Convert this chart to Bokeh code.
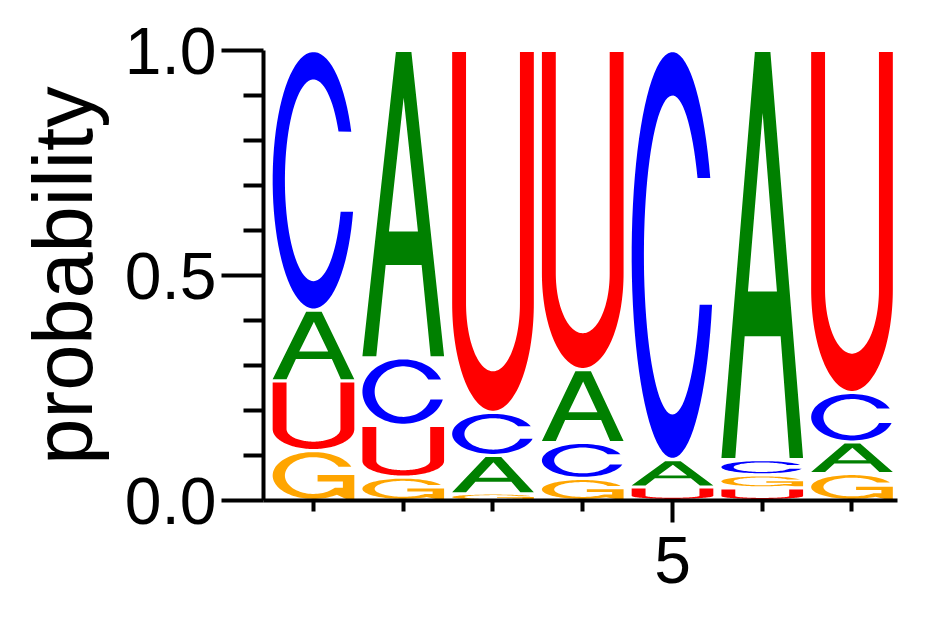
import numpy as np
from bokeh.plotting import figure
from bokeh.models import Range1d, FixedTicker, PrintfTickFormatter
from bokeh.embed import file_html
from bokeh.resources import INLINE

# ---------------- data ----------------
positions = [1, 2, 3, 4, 5, 6, 7]
letters = ["A", "C", "G", "U"]
prob_A = [0.157, 0.683, 0.085, 0.162, 0.061, 0.909, 0.070]
prob_C = [0.577, 0.150, 0.096, 0.080, 0.909, 0.034, 0.110]
prob_G = [0.111, 0.052, 0.015, 0.049, 0.000, 0.029, 0.060]
prob_U = [0.155, 0.115, 0.804, 0.709, 0.030, 0.028, 0.760]
y_ticks = [0.0, 0.5, 1.0]
y_minor_ticks = [0.1, 0.2, 0.3, 0.4, 0.6, 0.7, 0.8, 0.9]
x_ticks = [5]
x_minor_ticks = [1, 2, 3, 4, 6, 7]

colors = {"A": "#008000", "C": "#0000ff", "G": "#ffa500", "U": "#ff0000"}
probs = {"A": prob_A, "C": prob_C, "G": prob_G, "U": prob_U}

# ---------------- letter shapes in a unit box ----------------
def arc(cx, cy, rx, ry, a0, a1, n=80):
    t = np.radians(np.linspace(a0, a1, n))
    return list(zip(cx + rx * np.cos(t), cy + ry * np.sin(t)))

def shape_C():
    outer = arc(0.5, 0.5, 0.5, 0.5, 22.3, 345.8)
    inner = arc(0.5, 0.5, 0.35, 0.393, 341.8, 28.9)
    return [outer + inner]

def shape_U():
    pts = [(0.0, 1.0), (0.0, 0.30)]
    pts += arc(0.5, 0.30, 0.5, 0.30, 180, 360)
    pts += [(1.0, 1.0), (0.83, 1.0), (0.83, 0.30)]
    pts += arc(0.5, 0.30, 0.33, 0.19, 360, 180)
    pts += [(0.17, 1.0)]
    return [pts]

def shape_A():
    outer = [(0.0, 0.0), (0.41, 1.0), (0.60, 1.0), (1.0, 0.0), (0.835, 0.0),
             (0.725, 0.30), (0.285, 0.30), (0.17, 0.0)]
    hole = [(0.325, 0.41), (0.505, 0.85), (0.68, 0.41)]
    return [outer, hole]

def shape_G():
    pts = arc(0.5, 0.5, 0.5, 0.5, 22.3, 305)
    pts += [(0.90, 0.0), (1.0, 0.0), (1.0, 0.51), (0.55, 0.51), (0.55, 0.37),
            (0.86, 0.37), (0.86, 0.24)]
    pts += arc(0.5, 0.5, 0.35, 0.393, 318.6, 28.9)
    return [pts]

shapes = {"A": shape_A(), "C": shape_C(), "G": shape_G(), "U": shape_U()}

# ---------------- figure ----------------
p = figure(frame_width=634, frame_height=450,
           min_border_left=263, min_border_top=50,
           min_border_right=20, min_border_bottom=100,
           x_range=Range1d(0.443, 7.507), y_range=Range1d(0.0, 1.0),
           output_backend="svg", toolbar_location=None,
           background_fill_color="white", border_fill_color="white")

half_w = 0.455
for i, pos in enumerate(positions):
    col = sorted(letters, key=lambda L: probs[L][i])
    base = 0.0
    for L in col:
        h = probs[L][i]
        if h <= 0:
            continue
        pad = min(0.0035, h * 0.12)
        rings_x, rings_y = [], []
        for ring in shapes[L]:
            u = np.array([q[0] for q in ring])
            v = np.array([q[1] for q in ring])
            rings_x.append(list(pos + (u - 0.5) * 2 * half_w))
            rings_y.append(list(base + pad + v * (h - 2 * pad)))
        p.multi_polygons(xs=[[rings_x]], ys=[[rings_y]],
                         fill_color=colors[L], line_color=None)
        base += h

font = "Liberation Sans"
for ax in (p.xaxis[0], p.yaxis[0]):
    ax.axis_line_width = 4
    ax.axis_line_color = "black"
    ax.major_tick_line_width = 4
    ax.minor_tick_line_width = 4
    ax.major_tick_line_color = "black"
    ax.minor_tick_line_color = "black"
    ax.major_tick_in = 0
    ax.minor_tick_in = 0
    ax.major_label_text_font = font
    ax.major_label_text_font_size = "66px"
    ax.major_label_text_color = "black"

p.xaxis.ticker = FixedTicker(ticks=x_ticks, minor_ticks=x_minor_ticks)
p.xaxis.major_tick_out = 22
p.xaxis.minor_tick_out = 11
p.xaxis.major_label_standoff = 14

p.yaxis.ticker = FixedTicker(ticks=y_ticks, minor_ticks=y_minor_ticks)
p.yaxis.formatter = PrintfTickFormatter(format="%.1f")
p.yaxis.major_tick_out = 42
p.yaxis.minor_tick_out = 20
p.yaxis.major_label_standoff = 5
p.yaxis.axis_label = "probability"
p.yaxis.axis_label_text_font = font
p.yaxis.axis_label_text_font_size = "83px"
p.yaxis.axis_label_text_font_style = "normal"
p.yaxis.axis_label_text_color = "black"
p.yaxis.axis_label_standoff = 12

p.xgrid.visible = False
p.ygrid.visible = False
p.outline_line_color = None

open("out.html", "w").write(file_html(p, INLINE))
